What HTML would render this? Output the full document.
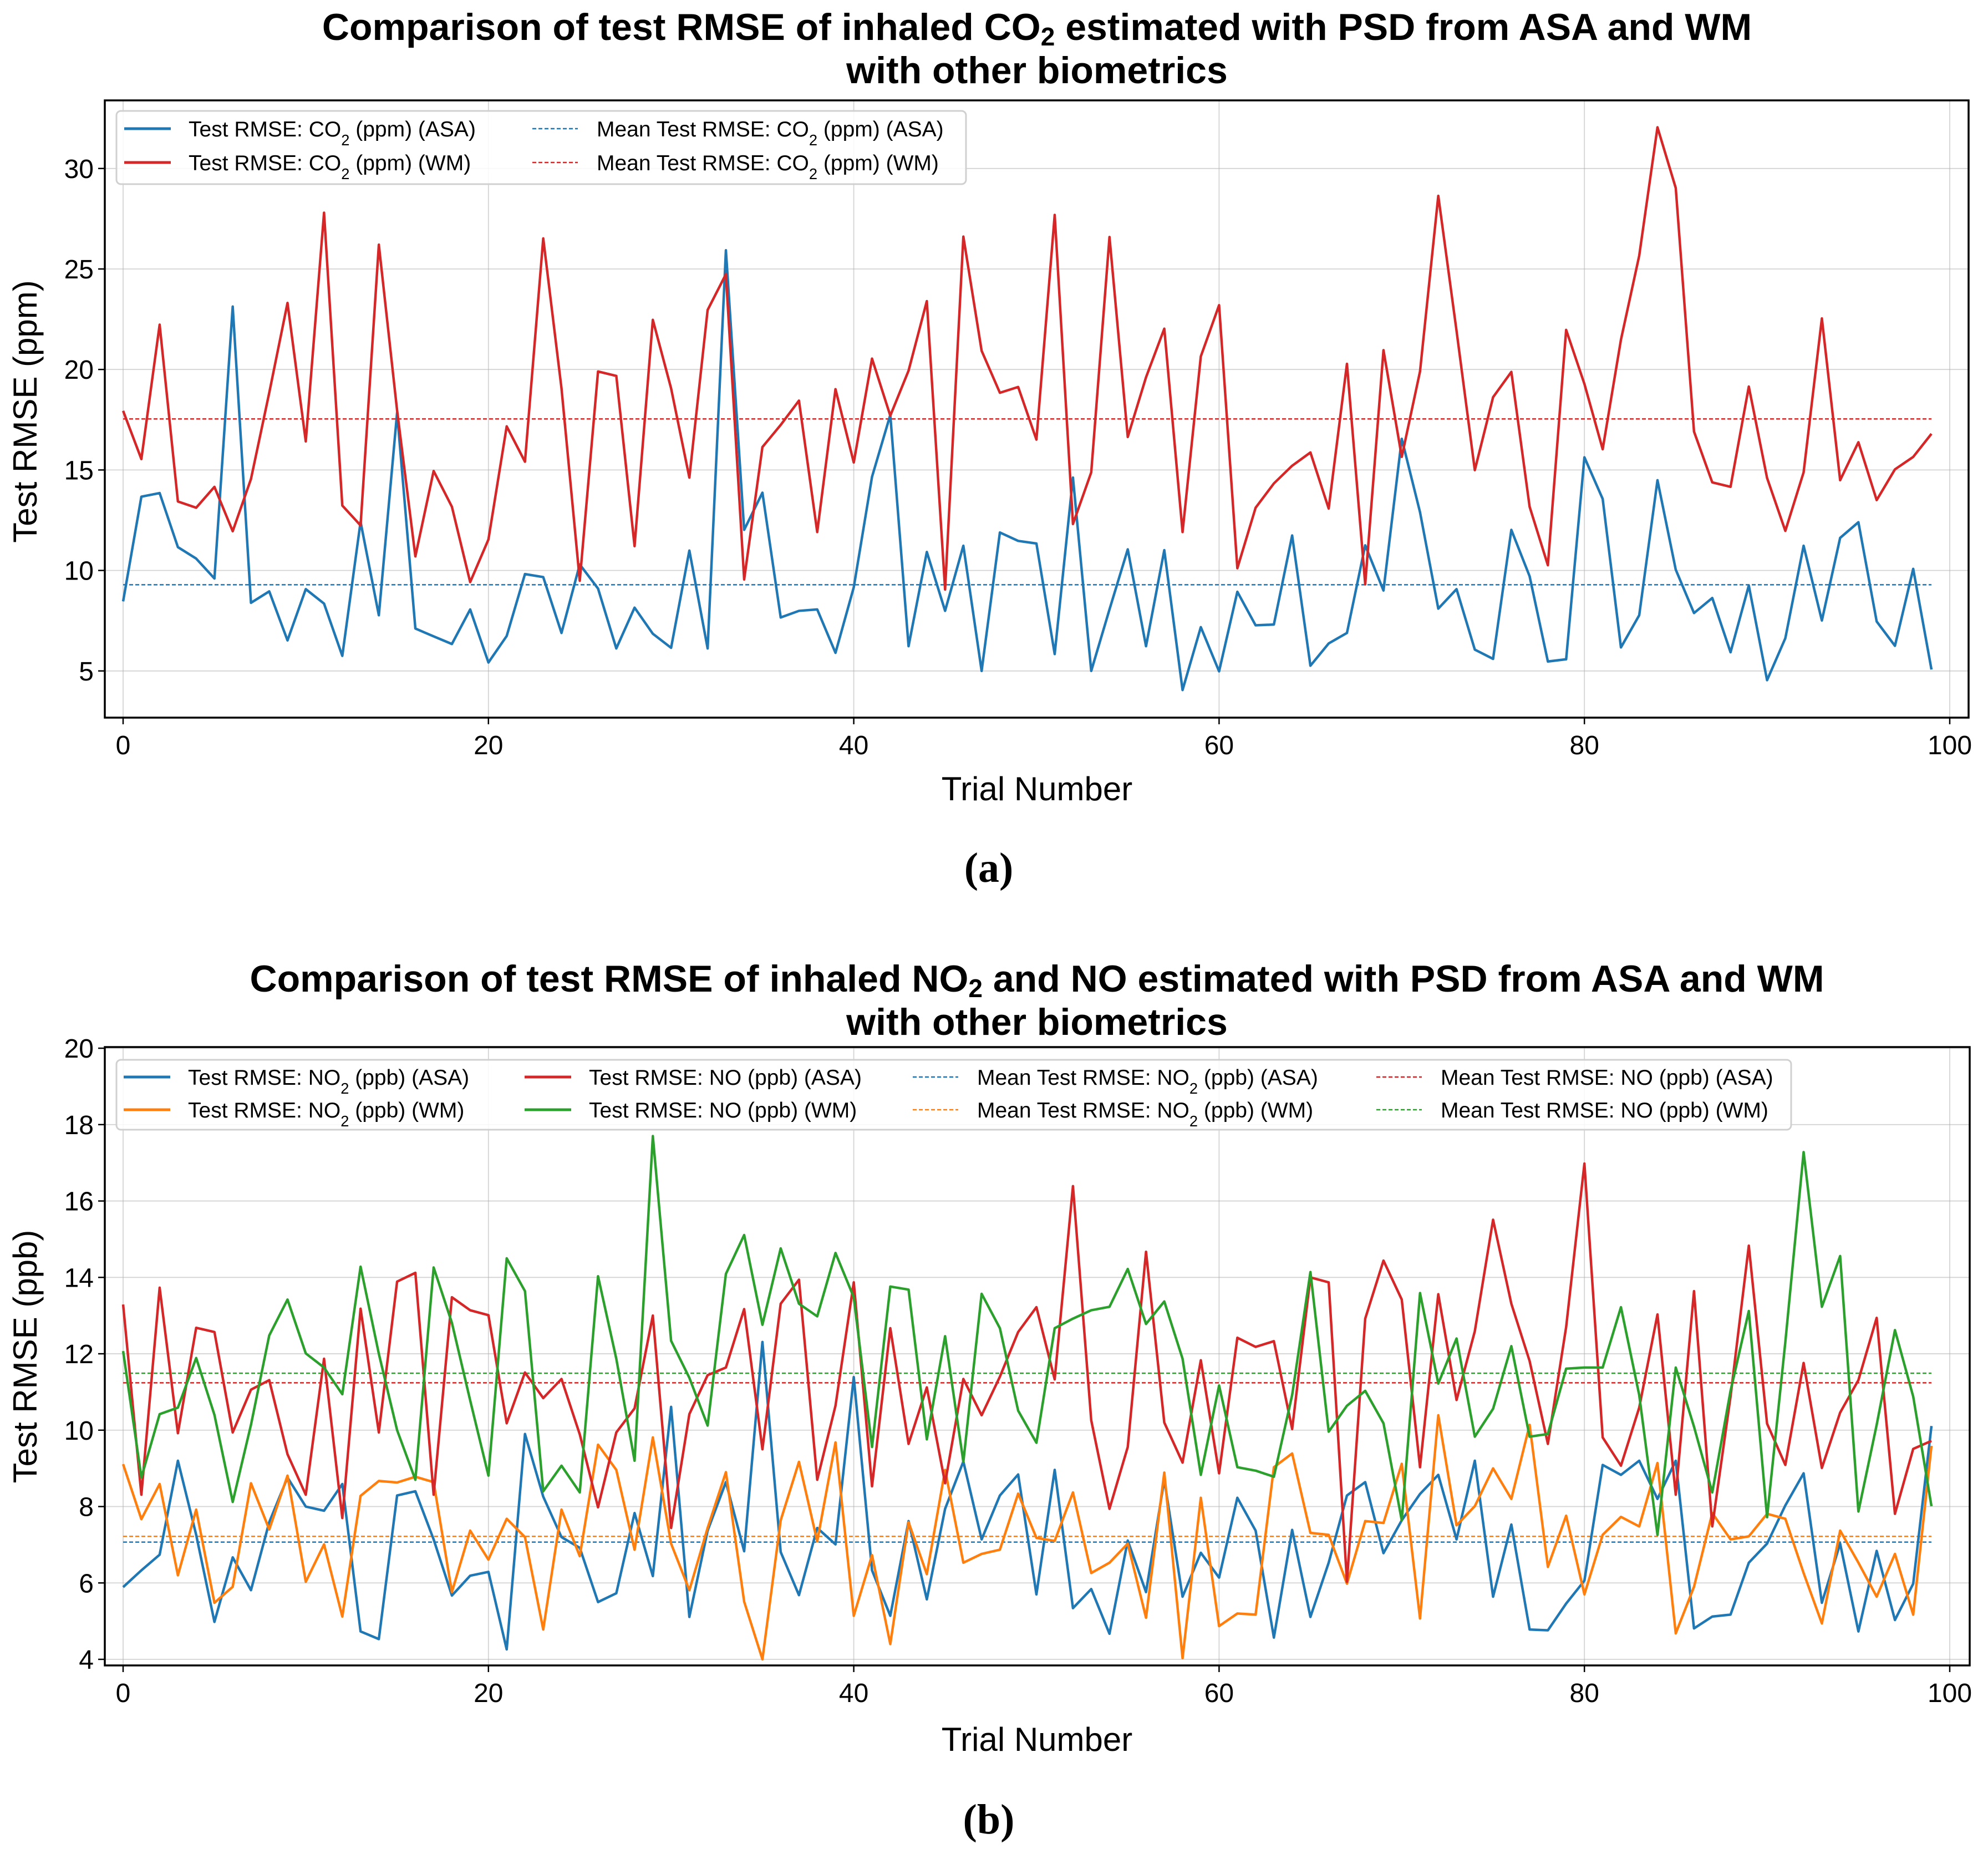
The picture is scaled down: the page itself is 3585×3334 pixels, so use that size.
<!DOCTYPE html>
<html><head><meta charset="utf-8"><style>
html,body{margin:0;padding:0;background:#fff}
svg{display:block;font-family:"Liberation Sans",Arial,sans-serif}
</style></head><body>
<svg id="fig" width="3585" height="3334" viewBox="0 0 3585 3334" xmlns="http://www.w3.org/2000/svg">
<rect width="3585" height="3334" fill="#fff"/>
<g id="chartA"></g>
<g id="chartB"></g>
<text x="1870" y="72" text-anchor="middle" font-size="68" font-weight="bold">Comparison of test RMSE of inhaled CO<tspan dy="10" font-size="46">2</tspan><tspan dy="-10"> estimated with PSD from ASA and WM</tspan></text>
<text x="1870" y="150" text-anchor="middle" font-size="68" font-weight="bold">with other biometrics</text>
<text x="1870" y="1788" text-anchor="middle" font-size="68" font-weight="bold">Comparison of test RMSE of inhaled NO<tspan dy="10" font-size="46">2</tspan><tspan dy="-10"> and NO estimated with PSD from ASA and WM</tspan></text>
<text x="1870" y="1866" text-anchor="middle" font-size="68" font-weight="bold">with other biometrics</text>
<text x="1870" y="1443" text-anchor="middle" font-size="60">Trial Number</text>
<text x="1870" y="3157" text-anchor="middle" font-size="60">Trial Number</text>
<text transform="translate(66,742) rotate(-90)" text-anchor="middle" font-size="60">Test RMSE (ppm)</text>
<text transform="translate(66,2446) rotate(-90)" text-anchor="middle" font-size="60">Test RMSE (ppb)</text>
<text x="1783" y="1590" text-anchor="middle" font-size="76" font-weight="bold" font-family="Liberation Serif, serif">(a)</text>
<text x="1783" y="3306" text-anchor="middle" font-size="76" font-weight="bold" font-family="Liberation Serif, serif">(b)</text>
</svg>
<script>
const trials = Array.from({length:100},(_, i)=>i);
const co2ASA = [8.46,13.67,13.85,11.16,10.59,9.6,23.13,8.39,8.96,6.52,9.07,8.35,5.75,12.42,7.77,17.85,7.11,6.72,6.34,8.06,5.42,6.74,9.82,9.67,6.89,10.3,9.1,6.12,8.15,6.85,6.15,10.99,6.12,25.93,12.02,13.87,7.66,7.99,8.06,5.9,9.16,14.66,17.74,6.23,10.92,7.99,11.23,5.0,11.89,11.47,11.34,5.84,14.62,5.0,8.06,11.05,6.23,11.01,4.05,7.18,4.98,8.94,7.27,7.31,11.74,5.26,6.37,6.89,11.25,9.0,16.55,12.9,8.1,9.07,6.06,5.6,12.02,9.71,5.47,5.58,15.63,13.56,6.17,7.77,14.49,10.04,7.88,8.63,5.93,9.25,4.54,6.63,11.23,7.51,11.62,12.4,7.46,6.25,10.08,5.07];
const co2WM = [17.94,15.54,22.23,13.43,13.12,14.16,11.95,14.55,18.84,23.31,16.42,27.8,13.23,12.24,26.21,17.96,10.7,14.95,13.17,9.42,11.54,17.17,15.41,26.52,19.06,9.49,19.9,19.68,11.21,22.47,19.06,14.62,22.96,24.74,9.55,16.14,17.24,18.45,11.91,19.02,15.37,20.54,17.7,19.94,23.4,9.05,26.61,20.93,18.84,19.13,16.51,27.69,12.31,14.88,26.59,16.64,19.61,22.03,11.91,20.65,23.2,10.11,13.12,14.33,15.21,15.87,13.08,20.28,9.31,20.96,15.65,19.9,28.64,21.92,14.99,18.62,19.88,13.17,10.26,21.97,19.28,16.03,21.48,25.66,32.05,29.03,16.91,14.38,14.16,19.15,14.6,11.97,14.88,22.54,14.49,16.38,13.5,15.03,15.65,16.8];
const co2Means = [9.29, 17.54];
const co2Ticks = [5,10,15,20,25,30];

const no2ASA = [5.89,6.33,6.74,9.2,7.26,4.98,6.67,5.81,7.59,8.76,8.0,7.89,8.59,4.73,4.53,8.29,8.4,7.14,5.67,6.19,6.29,4.26,9.9,8.26,7.2,6.92,5.5,5.73,7.83,6.18,10.61,5.11,7.37,8.64,6.83,12.31,6.81,5.68,7.44,7.01,11.39,6.33,5.14,7.62,5.57,7.94,9.18,7.14,8.29,8.84,5.7,8.96,5.34,5.84,4.67,7.11,5.76,8.7,5.64,6.79,6.14,8.23,7.37,4.57,7.39,5.11,6.53,8.29,8.64,6.78,7.64,8.33,8.83,7.14,9.2,5.64,7.53,4.78,4.76,5.46,6.06,9.09,8.83,9.2,8.2,9.2,4.81,5.12,5.17,6.53,7.03,8.03,8.87,5.48,7.03,4.73,6.84,5.03,5.98,10.11];
const no2WM = [9.11,7.67,8.59,6.2,7.92,5.48,5.9,8.61,7.4,8.81,6.03,7.01,5.12,8.28,8.67,8.63,8.78,8.64,5.76,7.37,6.61,7.68,7.2,4.78,7.92,6.7,9.62,8.96,6.87,9.81,7.03,5.81,7.44,8.9,5.51,4.0,7.64,9.17,7.09,9.68,5.14,6.73,4.4,7.59,6.23,8.96,6.53,6.76,6.87,8.34,7.18,7.1,8.37,6.26,6.53,7.03,5.09,8.89,4.03,8.23,4.87,5.2,5.17,9.03,9.39,7.31,7.26,5.98,7.62,7.57,9.12,5.07,10.39,7.51,8.01,9.0,8.2,10.14,6.42,7.76,5.7,7.26,7.73,7.48,9.14,4.68,5.9,7.83,7.14,7.22,7.81,7.68,6.26,4.94,7.37,6.53,5.64,6.76,5.17,9.59];
const noASA = [13.29,8.31,13.73,9.92,12.68,12.57,9.94,11.06,11.31,9.37,8.31,11.87,7.7,13.18,9.94,13.89,14.12,8.31,13.48,13.14,13.01,10.18,11.51,10.84,11.34,9.89,7.98,9.94,10.57,13.0,7.44,10.42,11.44,11.64,13.17,9.5,13.31,13.94,8.7,10.64,13.87,8.53,12.67,9.64,11.12,8.61,11.34,10.39,11.4,12.57,13.22,11.33,16.39,10.26,7.94,9.56,14.67,10.2,9.15,11.83,8.87,12.42,12.18,12.33,10.03,14.0,13.87,6.03,12.92,14.44,13.42,9.03,13.56,10.79,12.59,15.51,13.31,11.81,9.64,12.7,16.98,9.81,9.07,10.59,13.03,8.31,13.64,7.48,10.88,14.83,10.17,9.09,11.76,9.01,10.46,11.31,12.94,7.81,9.51,9.72];
const noWM = [12.07,8.76,10.42,10.59,11.89,10.4,8.12,10.14,12.48,13.42,12.01,11.64,10.94,14.28,12.0,10.0,8.7,14.26,12.81,10.78,8.81,14.5,13.64,8.4,9.07,8.37,14.03,11.87,9.2,17.7,12.34,11.37,10.12,14.09,15.11,12.76,14.76,13.31,12.98,14.64,13.48,9.56,13.76,13.68,9.76,12.46,9.17,13.57,12.67,10.51,9.67,12.67,12.92,13.14,13.23,14.22,12.78,13.37,11.87,8.83,11.17,9.03,8.94,8.78,10.92,14.14,9.96,10.64,11.03,10.18,7.64,13.59,11.22,12.4,9.83,10.56,12.2,9.83,9.9,11.61,11.64,11.64,13.22,10.92,7.26,11.64,10.09,8.37,11.03,13.12,7.72,12.31,17.28,13.23,14.56,7.87,10.14,12.62,10.88,8.01];
const noMeans = [7.07, 7.22, 11.24, 11.49];
const noTicks = [4,6,8,10,12,14,16,18,20];
const xTicks = [0,20,40,60,80,100];

const NS='http://www.w3.org/2000/svg';
function mk(tag, attrs, parent){const e=document.createElementNS(NS,tag);for(const k in attrs)e.setAttribute(k,attrs[k]);parent.appendChild(e);return e;}
const xS = i => 222 + 32.94*i;
const yA = v => 1209.8 - (v-5)*36.24;
const yB = v => 2992 - (v-4)*68.87;

function axes(g, L, T, R, B, yS, ticks, pre){
  for(const t of ticks){
    const gl=mk('line',{x1:L,x2:R,y1:yS(t),y2:yS(t),stroke:'#b0b0b0','stroke-width':1.8,'stroke-opacity':0.55},g);
    
    
    const tk=mk('line',{x1:L-12,x2:L,y1:yS(t),y2:yS(t),stroke:'#000','stroke-width':2.5},g);
    
    
    const tl=mk('text',{x:L-20,y:yS(t)+17,'text-anchor':'end','font-size':48},g);
    
    
    tl.textContent=t;
  }
  for(const t of xTicks){
    const gl=mk('line',{x1:xS(t),x2:xS(t),y1:T,y2:B,stroke:'#b0b0b0','stroke-width':1.8,'stroke-opacity':0.55},g);
    
    
    const tk=mk('line',{x1:xS(t),x2:xS(t),y1:B,y2:B+12,stroke:'#000','stroke-width':2.5},g);
    
    
    const tl=mk('text',{x:xS(t),y:B+66,'text-anchor':'middle','font-size':48},g);
    
    
    tl.textContent=t;
  }
}
function frame(g,L,T,R,B,pre){
  const f=mk('rect',{x:L,y:T,width:R-L,height:B-T,fill:'none',stroke:'#000','stroke-width':3.5},g);
  
  
}
function series(g, vals, yS, color, name){
  const p=mk('polyline',{points:vals.map((v,i)=>xS(trials[i])+','+yS(v)).join(' '),fill:'none',stroke:color,'stroke-width':4.5,'stroke-linejoin':'round'},g);
  
  
}
function mean(g, v, yS, color, name){
  const l=mk('line',{x1:xS(0),x2:xS(99),y1:yS(v),y2:yS(v),stroke:color,'stroke-width':2.5,'stroke-dasharray':'7,4'},g);
  
  
}
function legendEntry(g, x, y, color, dashed, label, sub, rest, name){
  const eg=mk('g',{},g);
  
  
  mk('line',dashed?{x1:x,x2:x+82,y1:y,y2:y,stroke:color,'stroke-width':2.5,'stroke-dasharray':'7,4'}:{x1:x,x2:x+84,y1:y,y2:y,stroke:color,'stroke-width':5},eg);
  const t=mk('text',{x:x+116,y:y+14,'font-size':39},eg);
  t.appendChild(document.createTextNode(label));
  if(sub){const s=mk('tspan',{'baseline-shift':'sub','font-size':'70%'},t);s.textContent='2';}
  const r=mk('tspan',{},t);r.textContent=rest;
}

const C={blue:'#1f77b4',red:'#d62728',orange:'#ff7f0e',green:'#2ca02c'};

// Chart A
const gA=document.getElementById('chartA');
axes(gA,189,181,3550,1294,yA,co2Ticks,'a-');
mean(gA,co2Means[0],yA,C.blue,'mean-co2-asa');
mean(gA,co2Means[1],yA,C.red,'mean-co2-wm');
series(gA,co2ASA,yA,C.blue,'line-co2-asa');
series(gA,co2WM,yA,C.red,'line-co2-wm');
frame(gA,189,181,3550,1294,'a-');
const lgA=mk('g',{},gA);


mk('rect',{x:210,y:200,width:1532,height:132,rx:8,fill:'#fff','fill-opacity':0.85,stroke:'#d0d0d0','stroke-width':3},lgA);
legendEntry(lgA,224,232,C.blue,false,'Test RMSE: CO',true,' (ppm) (ASA)','legend-entry-co2-asa');
legendEntry(lgA,224,293,C.red,false,'Test RMSE: CO',true,' (ppm) (WM)','legend-entry-co2-wm');
legendEntry(lgA,960,232,C.blue,true,'Mean Test RMSE: CO',true,' (ppm) (ASA)','legend-entry-mean-co2-asa');
legendEntry(lgA,960,293,C.red,true,'Mean Test RMSE: CO',true,' (ppm) (WM)','legend-entry-mean-co2-wm');

// Chart B
const gB=document.getElementById('chartB');
axes(gB,189,1888,3552,3003,yB,noTicks,'b-');
mean(gB,noMeans[0],yB,C.blue,'mean-no2-asa');
mean(gB,noMeans[1],yB,C.orange,'mean-no2-wm');
mean(gB,noMeans[2],yB,C.red,'mean-no-asa');
mean(gB,noMeans[3],yB,C.green,'mean-no-wm');
series(gB,no2ASA,yB,C.blue,'line-no2-asa');
series(gB,no2WM,yB,C.orange,'line-no2-wm');
series(gB,noASA,yB,C.red,'line-no-asa');
series(gB,noWM,yB,C.green,'line-no-wm');
frame(gB,189,1888,3552,3003,'b-');
const lgB=mk('g',{},gB);


mk('rect',{x:210,y:1911,width:3020,height:126,rx:8,fill:'#fff','fill-opacity':0.85,stroke:'#d0d0d0','stroke-width':3},lgB);
legendEntry(lgB,223,1942,C.blue,false,'Test RMSE: NO',true,' (ppb) (ASA)','legend-entry-no2-asa');
legendEntry(lgB,223,2001,C.orange,false,'Test RMSE: NO',true,' (ppb) (WM)','legend-entry-no2-wm');
legendEntry(lgB,946,1942,C.red,false,'Test RMSE: NO (ppb) (ASA)',false,'','legend-entry-no-asa');
legendEntry(lgB,946,2001,C.green,false,'Test RMSE: NO (ppb) (WM)',false,'','legend-entry-no-wm');
legendEntry(lgB,1646,1942,C.blue,true,'Mean Test RMSE: NO',true,' (ppb) (ASA)','legend-entry-mean-no2-asa');
legendEntry(lgB,1646,2001,C.orange,true,'Mean Test RMSE: NO',true,' (ppb) (WM)','legend-entry-mean-no2-wm');
legendEntry(lgB,2482,1942,C.red,true,'Mean Test RMSE: NO (ppb) (ASA)',false,'','legend-entry-mean-no-asa');
legendEntry(lgB,2482,2001,C.green,true,'Mean Test RMSE: NO (ppb) (WM)',false,'','legend-entry-mean-no-wm');
</script>
</body></html>
